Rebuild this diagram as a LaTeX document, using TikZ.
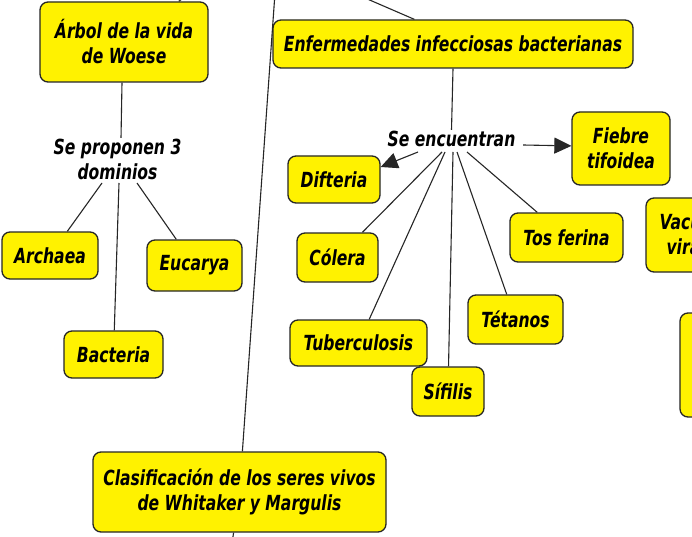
\documentclass[tikz,border=0pt]{standalone}
\usepackage{fontspec}
\newfontfamily\mapfont[FakeStretch=0.75]{DejaVu Sans}
\usetikzlibrary{arrows.meta,backgrounds,calc}
\tikzset{
  box/.style={draw=black!85, line width=1.3pt, fill=yellow, rounded corners=8pt,
    inner sep=0pt, align=center,
    font={\mapfont\bfseries\itshape\fontsize{20.8}{25}\selectfont}},
  lbl/.style={inner sep=1pt, align=center,
    font={\mapfont\bfseries\itshape\fontsize{20.8}{25}\selectfont}},
  conn/.style={draw=black!85, line width=1.1pt},
  arr/.style={conn, -{Triangle[length=17pt,width=16pt]}},
}
\begin{document}
\begin{tikzpicture}[x=1pt,y=-1pt]
\useasboundingbox (0,0) rectangle (692,537);
\begin{scope}
\clip (0,0) rectangle (692,537);
% boxes
\node[box, minimum width=168pt, minimum height=80pt] (arbol) at (124,42) {Árbol de la vida\\de Woese};
\node[box, minimum width=96pt, minimum height=47pt] (archaea) at (50,255.5) {Archaea};
\node[box, minimum width=95pt, minimum height=51pt] (eucarya) at (194.5,265.5) {Eucarya};
\node[box, minimum width=99pt, minimum height=47pt] (bacteria) at (113.5,354.5) {Bacteria};
\node[box, minimum width=360pt, minimum height=48pt] (enf) at (453,44) {Enfermedades infecciosas bacterianas};
\node[box, minimum width=98pt, minimum height=73pt] (fiebre) at (621,148.5) {Fiebre\\tifoidea};
\node[box, minimum width=92pt, minimum height=47pt] (difteria) at (334,179.5) {Difteria};
\node[box, minimum width=81pt, minimum height=49pt] (colera) at (337.5,257.5) {Cólera};
\node[box, minimum width=113pt, minimum height=49pt] (tos) at (566.5,237.5) {Tos ferina};
\node[box, minimum width=95pt, minimum height=49pt] (tetanos) at (515.5,319.5) {Tétanos};
\node[box, minimum width=137pt, minimum height=46pt] (tuber) at (358.5,343) {Tuberculosis};
\node[box, minimum width=72pt, minimum height=49pt] (sifilis) at (448,391.5) {Sífilis};
\node[box, minimum width=100pt, minimum height=74pt] (vacunas) at (696,235) {Vacunas\\virales};
\node[box, minimum width=100pt, minimum height=104pt] (otra) at (730,365) {};
\node[box, minimum width=293pt, minimum height=80pt] (clas) at (239.5,492) {Clasificación de los seres vivos\\de Whitaker y Margulis};
% labels
\node[lbl] (dom) at (117.5,159.5) {Se proponen 3\\dominios};
\node[lbl] (enc) at (451.5,139) {Se encuentran};
% free ends
\coordinate (arbTop) at (186,-4);
\coordinate (enfTop) at (365,-2);
\coordinate (longTop) at (274.5,0);
\coordinate (longBot) at (232.5,540);
\coordinate (d1) at (102,183);
\coordinate (d2) at (119,183);
\coordinate (d3) at (137,183);
\coordinate (e0) at (418,152);
\coordinate (e1) at (442,152);
\coordinate (e2) at (445,152);
\coordinate (e3) at (453,152);
\coordinate (e4) at (457,152);
\coordinate (e5) at (467,152);
\coordinate (e6) at (523,145);
\end{scope}
\begin{scope}[on background layer]
\fill[white] (0,0) rectangle (692,537);
\clip (0,0) rectangle (692,537);
\draw[conn] (arbol) -- (arbTop);
\draw[conn] (enfTop) -- ($(enf.north west)+(142,0)$);
\draw[conn] (longTop) -- (clas);
\draw[conn] (clas) -- (longBot);
\draw[conn] (arbol.south -| 122,0) -- (dom.north -| 121,0);
\draw[conn] (d1) -- (archaea);
\draw[conn] (d2) -- (bacteria);
\draw[conn] (d3) -- (eucarya);
\draw[conn] (enf.south) -- (enc.north);
\draw[conn] (e1) -- (colera);
\draw[conn] (e2) -- (tuber);
\draw[conn] (e3) -- (sifilis);
\draw[conn] (e4) -- (tetanos);
\draw[conn] (e5) -- (tos);
\end{scope}
\draw[arr] (e0) -- (difteria.15);
\draw[arr] (e6) -- (fiebre.177);
\end{tikzpicture}
\end{document}
